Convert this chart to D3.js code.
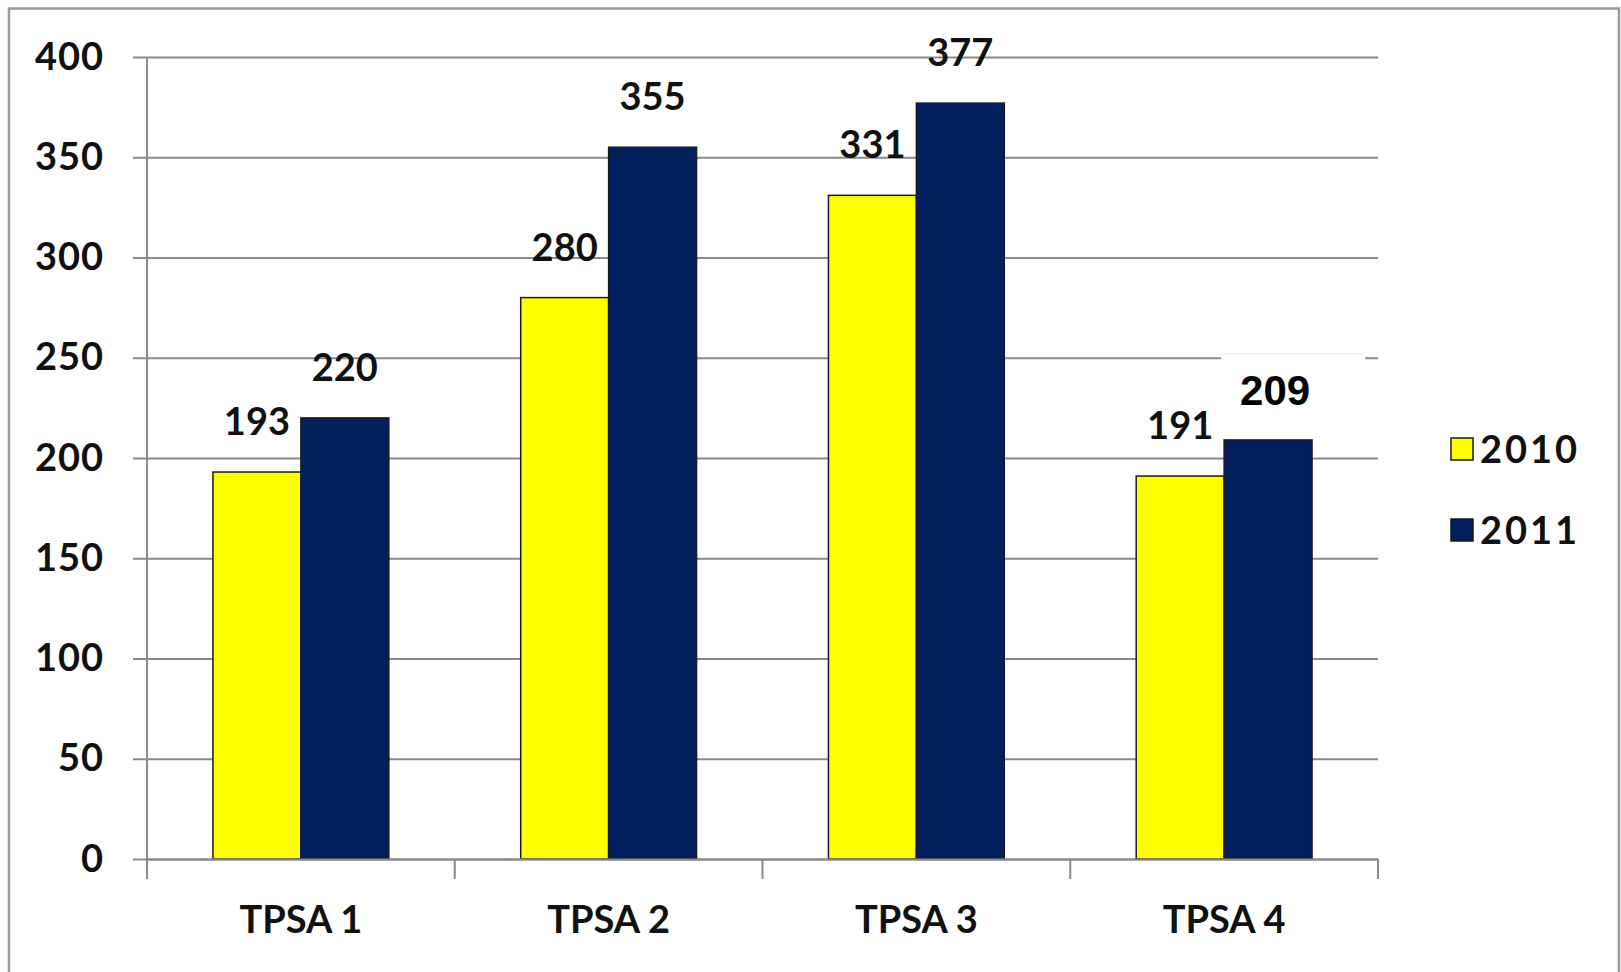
<!DOCTYPE html>
<html>
<head>
<meta charset="utf-8">
<script src="https://cdn.jsdelivr.net/npm/d3@7"></script>
<style>
  body { margin: 0; background: #fff; }
  svg { display: block; }
</style>
</head>
<body>
<div id="chart"></div>
<script>
var categories = ["TPSA 1", "TPSA 2", "TPSA 3", "TPSA 4"];
var seriesNames = ["2010", "2011"];
var values2010 = [193, 280, 331, 191];
var values2011 = [220, 355, 377, 209];
var yTicks = [0, 50, 100, 150, 200, 250, 300, 350, 400];

var W = 1621, H = 972;
var margin = {top: 57, left: 147, right: 243, bottom: 113};
var width = W - margin.left - margin.right;
var height = H - margin.top - margin.bottom;

var colors = {"2010": "#ffff00", "2011": "#03205e"};
var font = "Lato, 'Open Sans', sans-serif";

var data = categories.map((c, i) => ({cat: c, vals: [
  {key: "2010", val: values2010[i]},
  {key: "2011", val: values2011[i]}
]}));

var svg = d3.select("#chart").append("svg")
  .attr("width", W)
  .attr("height", H);

// outer frame
svg.append("rect")
  .attr("x", 9).attr("y", 8.5)
  .attr("width", 1610).attr("height", 1000)
  .attr("fill", "none")
  .attr("stroke", "#9a9a9a")
  .attr("stroke-width", 2.5);

var g = svg.append("g")
  .attr("transform", "translate(" + margin.left + "," + margin.top + ")");

var y = d3.scaleLinear().domain([0, 400]).range([height, 0]);
var x0 = d3.scaleBand().domain(categories).range([0, width]);
var x1 = d3.scaleBand().domain(seriesNames).range([0, x0.bandwidth()]).paddingOuter(0.75);

// gridlines + y axis
var yAxis = g.append("g")
  .call(d3.axisLeft(y).tickValues(yTicks).tickSize(-width).tickSizeOuter(0).tickPadding(43));
yAxis.select(".domain").remove();
yAxis.selectAll(".tick line")
  .attr("x1", -14)
  .attr("stroke", "#8a8a8a")
  .attr("stroke-width", 2);
yAxis.selectAll(".tick text")
  .style("font-family", font)
  .style("font-weight", 700)
  .style("font-size", "38px")
  .style("letter-spacing", "1px")
  .attr("fill", "#111");

g.append("line")
  .attr("x1", 0).attr("x2", 0)
  .attr("y1", 0).attr("y2", height)
  .attr("stroke", "#8a8a8a")
  .attr("stroke-width", 2);

// bars
var groups = g.selectAll(".grp")
  .data(data)
  .enter().append("g")
  .attr("transform", d => "translate(" + x0(d.cat) + ",0)");

groups.selectAll("rect")
  .data(d => d.vals)
  .enter().append("rect")
  .attr("x", d => x1(d.key))
  .attr("y", d => y(d.val))
  .attr("width", x1.bandwidth())
  .attr("height", d => height - y(d.val))
  .attr("fill", d => colors[d.key])
  .attr("stroke", "#1a1a1a")
  .attr("stroke-width", 1.5);

// value labels (the last one is a separate pasted text box in the original)
groups.selectAll("text.val")
  .data((d, i) => d.vals.map(v => Object.assign({last: i == 3 && v.key == "2011"}, v)))
  .enter().each(function(d) {
    var sel = d3.select(this);
    if (d.last) {
      sel.append("rect")
        .attr("x", x1(d.key) - 3)
        .attr("y", y(d.val) - 86)
        .attr("width", 144)
        .attr("height", 70)
        .attr("fill", "#fff");
      sel.append("line")
        .attr("x1", x1(d.key) - 3).attr("x2", x1(d.key) + 141)
        .attr("y1", y(d.val) - 86).attr("y2", y(d.val) - 86)
        .attr("stroke", "#e2e2e2").attr("stroke-width", 1);
      sel.append("text")
        .attr("x", x1(d.key) + x1.bandwidth() / 2 + 7)
        .attr("y", y(d.val) - 35)
        .attr("text-anchor", "middle")
        .style("font-family", "'Liberation Sans', Arial, sans-serif")
        .style("font-weight", 700)
        .style("font-size", "42px")
        .attr("fill", "#000")
        .text(d.val);
    } else {
      sel.append("text")
        .attr("x", x1(d.key) + x1.bandwidth() / 2)
        .attr("y", y(d.val) - 37)
        .attr("text-anchor", "middle")
        .style("font-family", font)
        .style("font-weight", 700)
        .style("font-size", "38px")
        .attr("fill", "#111")
        .text(d.val);
    }
  });

// x axis
var xAxis = g.append("g")
  .attr("transform", "translate(0," + height + ")")
  .call(d3.axisBottom(x0).tickSize(0).tickPadding(47));
xAxis.select(".domain")
  .attr("stroke", "#8a8a8a")
  .attr("stroke-width", 2);
xAxis.selectAll(".tick text")
  .style("font-family", font)
  .style("font-weight", 700)
  .style("font-size", "38px")
  .attr("fill", "#111");

var edges = categories.map(c => x0(c)).concat([width]);
xAxis.selectAll("line.sep")
  .data(edges)
  .enter().append("line")
  .attr("x1", d => d).attr("x2", d => d)
  .attr("y1", 0).attr("y2", 20)
  .attr("stroke", "#8a8a8a")
  .attr("stroke-width", 2);

// legend
var legend = svg.append("g")
  .attr("transform", "translate(1451,438)");
var items = legend.selectAll("g")
  .data(seriesNames)
  .enter().append("g")
  .attr("transform", (d, i) => "translate(0," + i * 81 + ")");
items.append("rect")
  .attr("width", 22).attr("height", 22)
  .attr("fill", d => colors[d])
  .attr("stroke", "#1a1a1a")
  .attr("stroke-width", 1.5);
items.append("text")
  .attr("x", 29)
  .attr("y", 11)
  .attr("dy", "0.36em")
  .style("font-family", font)
  .style("font-weight", 700)
  .style("font-size", "38px")
  .style("letter-spacing", "3px")
  .attr("fill", "#111")
  .text(d => d);
</script>
</body>
</html>
